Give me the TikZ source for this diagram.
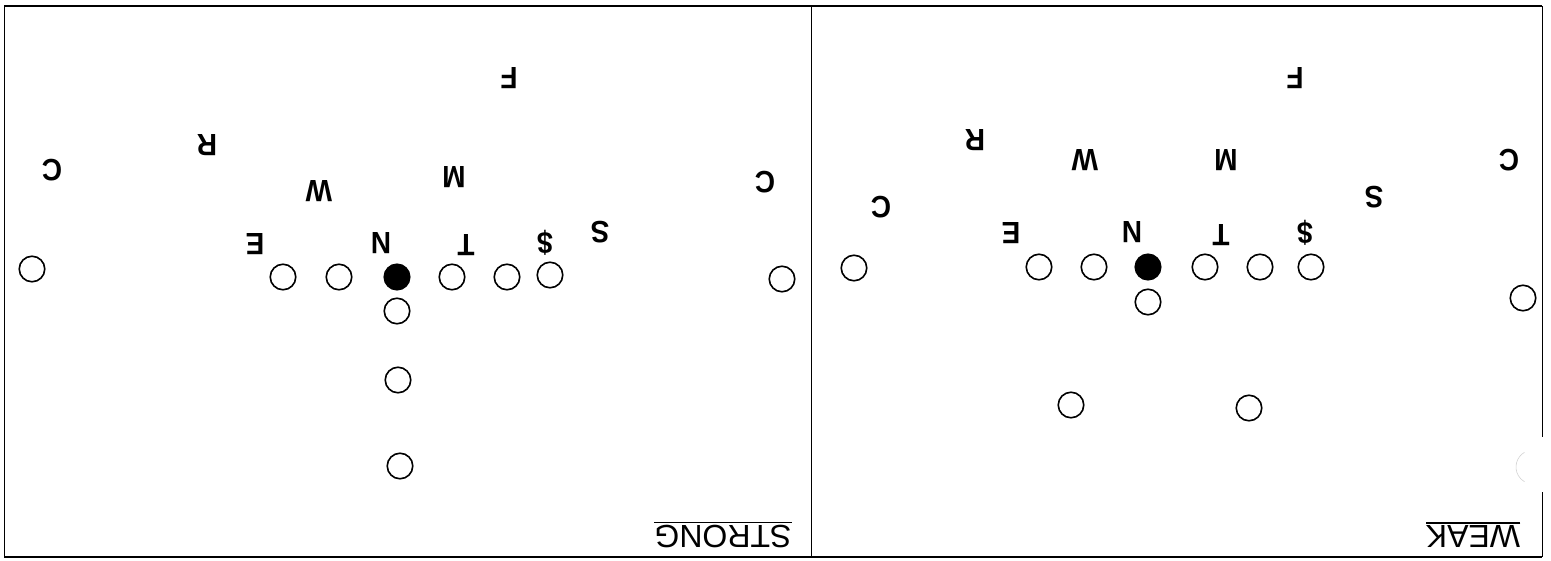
\documentclass[tikz,border=0pt]{standalone}
\usepackage{graphicx}
\usepackage{fontspec}
\setmainfont{Liberation Sans}
\begin{document}
\begin{tikzpicture}[x=1pt,y=-1pt,
  pl/.style={circle,draw,line width=1.6pt,minimum size=25.5pt,inner sep=0pt},
  plf/.style={pl,fill=black},
  lett/.style={rotate=180,inner sep=0pt,font=\fontsize{28}{30}\selectfont\bfseries},
  lab/.style={rotate=180,inner sep=0pt,font=\fontsize{32}{34}\selectfont},
  frame/.style={line width=2.4pt},
  side/.style={line width=1pt}]
\useasboundingbox (0,0) rectangle (1551,560);
% frame
\coordinate (tl) at (4,6);
\coordinate (tr) at (1542,6);
\coordinate (bl) at (4,557);
\coordinate (br) at (1542,557);
\coordinate (tm) at (811,6);
\coordinate (bm) at (811,557);
\coordinate (rg1) at (1542,437);
\coordinate (rg2) at (1542,492);
\draw[frame] (tl) -- (tr);
\draw[frame] (bl) -- (br);
\draw[side] (tl) -- (bl);
\draw[side] (tm) -- (bm);
\draw[side] (tr) -- (rg1);
\draw[side] (rg2) -- (br);
\draw[gray!35,line width=0.6pt] (1524.5,452.3) arc[start angle=120,end angle=240,radius=17pt];

% ---------- left panel (STRONG) ----------
\node[lett] (lF) at (509,78) {\scalebox{1}[1.1]{F}};
\node[lett] (lR) at (207,145) {\scalebox{1}[1.1]{R}};
\node[lett] (lC1) at (52,170) {\scalebox{1}[1.1]{C}};
\node[lett] (lM) at (454,177) {\scalebox{1}[1.1]{M}};
\node[lett] (lW) at (319,191) {\scalebox{1}[1.1]{W}};
\node[lett] (lC2) at (765,182) {\scalebox{1}[1.1]{C}};
\node[lett] (lS) at (600,232) {\scalebox{1}[1.1]{S}};
\node[lett] (lE) at (255,244) {\scalebox{1}[1.1]{E}};
\node[lett] (lN) at (381,243) {\scalebox{1}[1.1]{N}};
\node[lett] (lT) at (466,245) {\scalebox{1}[1.1]{T}};
\node[lett] (lD) at (545,243) {\scalebox{1}[1.1]{\$}};

\node[pl] (lo1) at (32,269) {};
\node[pl] (lo2) at (283,277) {};
\node[pl] (lo3) at (339,277) {};
\node[plf] (lo4) at (397,277) {};
\node[pl] (lo5) at (452,277) {};
\node[pl] (lo6) at (507,277) {};
\node[pl] (lo7) at (550,275) {};
\node[pl] (lo8) at (782,279) {};
\node[pl] (lb1) at (397,311) {};
\node[pl] (lb2) at (398,380) {};
\node[pl] (lb3) at (400,466) {};

\node[lab] (strong) at (723,537) {STRONG};
\draw[line width=1.6pt] ([yshift=3pt]strong.south west) -- ([yshift=3pt]strong.south east);

% ---------- right panel (WEAK) ----------
\node[lett] (rF) at (1295,78) {\scalebox{1}[1.1]{F}};
\node[lett] (rR) at (975,140) {\scalebox{1}[1.1]{R}};
\node[lett] (rW) at (1085,160) {\scalebox{1}[1.1]{W}};
\node[lett] (rM) at (1226,160) {\scalebox{1}[1.1]{M}};
\node[lett] (rC1) at (1509,160) {\scalebox{1}[1.1]{C}};
\node[lett] (rC2) at (881,207) {\scalebox{1}[1.1]{C}};
\node[lett] (rS) at (1374,197) {\scalebox{1}[1.1]{S}};
\node[lett] (rE) at (1011,233) {\scalebox{1}[1.1]{E}};
\node[lett] (rN) at (1132,232) {\scalebox{1}[1.1]{N}};
\node[lett] (rT) at (1221,235) {\scalebox{1}[1.1]{T}};
\node[lett] (rD) at (1305,233) {\scalebox{1}[1.1]{\$}};

\node[pl] (ro1) at (854,268) {};
\node[pl] (ro2) at (1039,267) {};
\node[pl] (ro3) at (1094,267) {};
\node[plf] (ro4) at (1148,267) {};
\node[pl] (ro5) at (1205,267) {};
\node[pl] (ro6) at (1260,267) {};
\node[pl] (ro7) at (1311,267) {};
\node[pl] (ro8) at (1523,298) {};
\node[pl] (rb1) at (1148,302) {};
\node[pl] (rb2) at (1071,405) {};
\node[pl] (rb3) at (1249,408) {};

\node[lab] (weak) at (1473,537) {WEAK};
\draw[line width=1.6pt] ([yshift=3pt]weak.south west) -- ([yshift=3pt]weak.south east);
\end{tikzpicture}
\end{document}
